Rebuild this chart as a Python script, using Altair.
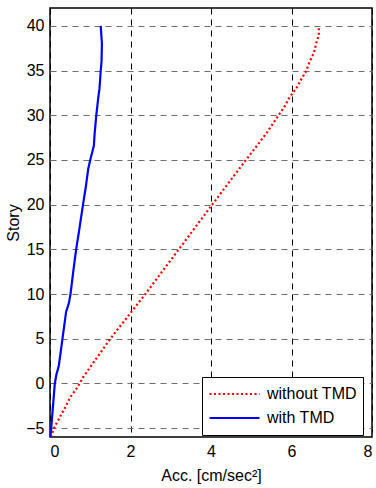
import altair as alt
import pandas as pd

# without TMD (red dotted)
story_wo = [-6, -5, -2.9, -1.5, -0.4, 0.55, 5, 10, 15, 20, 24, 25, 28, 30, 31, 32, 33, 34, 35, 36, 37, 38, 39, 40]
acc_wo = [0.02, 0.10, 0.35, 0.51, 0.69, 0.80, 1.50, 2.37, 3.20, 4.03, 4.70, 4.87, 5.38, 5.68, 5.83, 5.95, 6.12, 6.24, 6.37, 6.45, 6.56, 6.61, 6.68, 6.68]

# with TMD (blue solid)
story_w = [-6, -5, 0, 1, 2, 5, 8, 9, 10, 12.6, 15, 17, 20, 22, 24, 25, 26.6, 28, 30, 32, 33, 35, 36, 38, 40]
acc_w = [0.01, 0.03, 0.12, 0.16, 0.22, 0.31, 0.40, 0.47, 0.51, 0.58, 0.65, 0.72, 0.82, 0.89, 0.95, 1.00, 1.09, 1.11, 1.15, 1.20, 1.23, 1.26, 1.28, 1.29, 1.26]

series = ["without TMD", "with TMD"]
colors = ["#ff0000", "#0000ff"]
dashes = [[2, 2.5], [1, 0]]

df = pd.concat([
    pd.DataFrame({"story": story_wo, "acc": acc_wo, "series": series[0]}),
    pd.DataFrame({"story": story_w, "acc": acc_w, "series": series[1]}),
])

font = "Liberation Sans"

chart = alt.Chart(df).mark_line(strokeWidth=2.2, clip=True).encode(
    x=alt.X("acc:Q", title="Acc. [cm/sec²]",
            scale=alt.Scale(domain=[0, 8], nice=False, zero=False),
            axis=alt.Axis(values=[0, 2, 4, 6, 8], gridColor="#000000", gridDash=[6, 5],
                          gridOpacity=1, gridWidth=1)),
    y=alt.Y("story:Q", title="Story",
            scale=alt.Scale(domain=[-6, 42], nice=False, zero=False),
            axis=alt.Axis(values=[-5, 0, 5, 10, 15, 20, 25, 30, 35, 40], gridColor="#6e6e6e",
                          gridDash=[6, 5], gridOpacity=1, gridWidth=1.2)),
    color=alt.Color("series:N", scale=alt.Scale(domain=series, range=colors),
                    legend=alt.Legend(title=None, orient="none", legendX=152, legendY=369,
                                      symbolType="stroke", symbolSize=2500, symbolStrokeWidth=2.2,
                                      clipHeight=22, rowPadding=2,
                                      fillColor="white", strokeColor="black", padding=6,
                                      labelFontSize=16, labelFont=font, labelColor="#000000",
                                      labelOffset=6)),
    strokeDash=alt.StrokeDash("series:N", scale=alt.Scale(domain=series, range=dashes), legend=None),
    order=alt.Order("story:Q"),
).properties(
    width=322, height=429,
    padding={"left": 50, "top": 8, "right": 4, "bottom": 51},
    autosize=alt.AutoSizeParams(type="none"),
).configure_view(
    stroke="#000000", strokeWidth=1.5
).configure_axis(
    domain=False, ticks=False,
    labelFont=font, labelFontSize=16, labelColor="#000000", labelPadding=6,
    titleFont=font, titleFontSize=16, titleFontWeight="normal", titleColor="#000000",
).configure_axisY(titlePadding=4).configure_axisX(titlePadding=8)

chart.save("out.html", embed_options={"renderer": "svg", "actions": False})
